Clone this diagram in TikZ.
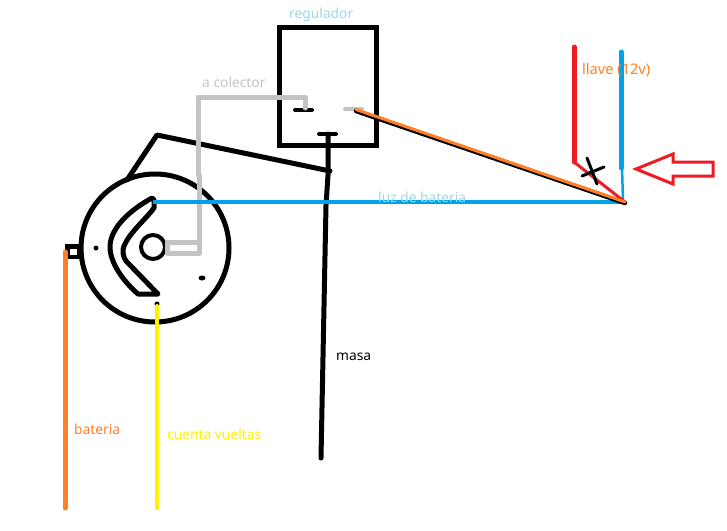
\documentclass[tikz,border=0pt]{standalone}
\usepackage{fontspec}
\setmainfont{Noto Sans}
\definecolor{pgray}{HTML}{C3C3C3}
\definecolor{pblue}{HTML}{00A2E8}
\definecolor{porange}{HTML}{FF7F27}
\definecolor{pred}{HTML}{ED1C24}
\definecolor{pyellow}{HTML}{FFF200}
\definecolor{plight}{HTML}{99D9EA}
\tikzset{
  wire/.style={line width=5pt,line cap=round,line join=round},
  thin wire/.style={line width=3pt,line cap=round,line join=round},
  lbl/.style={font=\fontsize{13.8}{16}\selectfont,inner sep=0pt,anchor=base west},
}
\begin{document}
\begin{tikzpicture}[x=1pt,y=-1pt]
\useasboundingbox (0,0) rectangle (727,530);
\fill[white] (0,0) rectangle (727,530);
% regulator box
\draw[line width=5pt,miter limit=10] (279,27) rectangle (376,145);
\draw[thin wire,line width=4pt] (295,110) -- (312,110);
\draw[thin wire,line width=4pt,pgray] (345,109) -- (362,109);
\draw[thin wire,line width=4pt] (319,134) -- (336,134);
% ground wire
\draw[wire] (328,134) -- (328,175) -- (326,205) -- (321,458);
% alternator body
\draw[wire] (155,248) circle (74);
\draw[wire] (152,198) .. controls (130,210) and (110,228) .. (110,247)
  .. controls (110,262) and (122,280) .. (138,294) -- (158,294)
  -- (126,261) .. controls (123,257) and (122,250) .. (124,246)
  .. controls (130,232) and (145,220) .. (154,208) -- (154,200) -- cycle;
\draw[line width=4pt] (153,247) circle (12);
% bracket
\draw[wire] (127,180) -- (157,135) -- (330,171);
% brush wire
\draw[wire,pgray] (167,242) -- (199,242) -- (199,253) -- (167,253) -- cycle;
\draw[wire,pgray] (199,253) -- (199,175);
\draw[wire,pgray] (198,175) -- (198,97) -- (305,97) -- (305,108);
% terminal
\draw[line width=4.5pt] (67.5,246.5) rectangle (79.5,257);
\fill (96,248) circle (2.5);
\fill (202,278) ellipse (3.5 and 2.5);
\fill (157,304) circle (2.5);
% light wire
\draw[line width=4pt,pblue] (153,201.5) -- (625,201.5);
% wires at the right
\draw[wire,pblue] (621,52) -- (621,168);
\draw[line width=2.5pt,pblue] (622,168) -- (623,201);
\draw[wire,pred] (574,47) -- (574,162);
\draw[thin wire,pred] (574,162) -- (625,202);
\draw[line width=4.5pt,line cap=round] (356,111) -- (625,203);
\draw[line width=3pt,line cap=round,porange] (356,109.5) -- (625,202);
\draw[thin wire] (587,158) -- (597,184);
\draw[thin wire] (582,176) -- (604,167);
% arrow
\draw[line width=3pt,pred,miter limit=10] (636,169) -- (673,154) -- (673,162) -- (713,162) -- (713,176) -- (673,176) -- (673,184) -- cycle;
% outgoing wires
\draw[wire,porange] (65,252) -- (65,508);
\draw[line width=4pt,line cap=round,pyellow] (157,306) -- (157,508);
% labels
\node[lbl,text=plight] (reg) at (289,18) {regulador};
\node[lbl,text=pgray] (col) at (202,87) {a colector};
\node[lbl,text=porange,font=\fontsize{14.6}{16}\selectfont] (llave) at (582,74) {llave (12v)};
\node[lbl,text=plight] (luz) at (378,202) {luz de bateria};
\node[lbl,text=black] (masa) at (336,360) {masa};
\node[lbl,text=porange] (bat) at (74,434) {bateria};
\node[lbl,text=pyellow] (cv) at (167,439) {cuenta vueltas};
\end{tikzpicture}
\end{document}
